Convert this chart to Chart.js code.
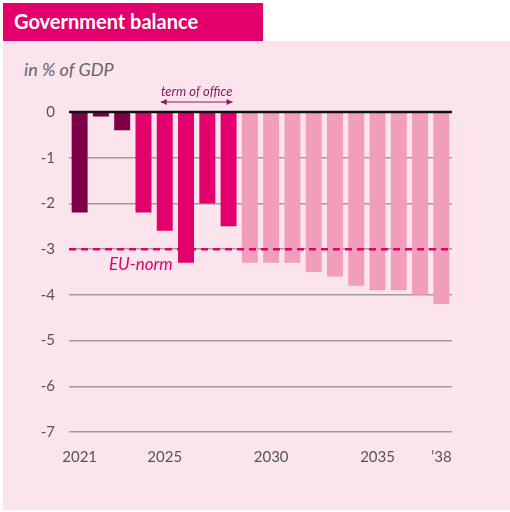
<!DOCTYPE html>
<html>
<head>
<meta charset="utf-8">
<script src="https://cdn.jsdelivr.net/npm/chart.js@4.4.1/dist/chart.umd.min.js"></script>
<style>
    html, body { margin: 0; padding: 0; background: #fff; }
    #wrap { position: relative; width: 510px; height: 512px; overflow: hidden; }
    #panel { position: absolute; left: 3px; top: 41px; width: 507px; height: 469px; background: #fbe4ec; }
    #title {
        position: absolute; left: 3px; top: 3px; width: 260px; height: 38px;
        background: #e4006c; color: #fff;
        font: bold 20px Lato, sans-serif; line-height: 36px;
        padding-left: 11px; box-sizing: border-box;
    }
    #unit {
        position: absolute; left: 24px; top: 58px;
        font: italic 18px Lato, sans-serif; color: #666;
    }
    canvas { position: absolute; left: 0; top: 0; }
</style>
</head>
<body>
<div id="wrap">
    <div id="panel"></div>
    <div id="title">Government balance</div>
    <div id="unit">in % of GDP</div>
    <canvas id="balanceChart" width="510" height="512"></canvas>
</div>
<script>
// Jaren en begrotingssaldo (% bbp)
const years = ['2021', '2022', '2023', '2024', '2025', '2026', '2027', '2028', '2029',
               '2030', '2031', '2032', '2033', '2034', '2035', '2036', '2037', '2038'];
const balance = [-2.2, -0.1, -0.4, -2.2, -2.6, -3.3, -2.0, -2.5, -3.3,
                 -3.3, -3.3, -3.5, -3.6, -3.8, -3.9, -3.9, -4.0, -4.2];
// realisatie, kabinetsperiode, raming
const phase = ['real', 'real', 'real', 'term', 'term', 'term', 'term', 'term', 'proj',
               'proj', 'proj', 'proj', 'proj', 'proj', 'proj', 'proj', 'proj', 'proj'];
const xTickLabels = ['2021', '', '', '', '2025', '', '', '', '',
                     '2030', '', '', '', '', '2035', '', '', '\u201938'];
const yTicks = [0, -1, -2, -3, -4, -5, -6, -7];
const euNorm = -3;
const termStart = '2025';
const termEnd = '2028';

const phaseColors = { real: '#7d0046', term: '#e4006c', proj: '#f29dba' };
const barColors = phase.map(p => phaseColors[p]);

// Nullijn, EU-norm en "term of office" bovenop de staven
const overlayPlugin = {
    id: 'overlay',
    afterDatasetsDraw(chart) {
        const { ctx, chartArea, scales } = chart;
        const x = scales.x, y = scales.y;
        ctx.save();

        // EU-norm stippellijn
        const yn = y.getPixelForValue(euNorm);
        ctx.strokeStyle = '#e4006c';
        ctx.lineWidth = 2.5;
        ctx.setLineDash([7, 5]);
        ctx.beginPath();
        ctx.moveTo(chartArea.left, yn);
        ctx.lineTo(chartArea.right, yn);
        ctx.stroke();
        ctx.setLineDash([]);

        ctx.fillStyle = '#e4006c';
        ctx.font = 'italic 17px Lato, sans-serif';
        ctx.textAlign = 'left';
        ctx.textBaseline = 'middle';
        ctx.fillText('EU-norm', x.getPixelForValue(1) + 8, yn + 15);

        // nullijn
        const y0 = y.getPixelForValue(0);
        ctx.strokeStyle = '#111';
        ctx.lineWidth = 2.5;
        ctx.beginPath();
        ctx.moveTo(chartArea.left, y0);
        ctx.lineTo(chartArea.right, y0);
        ctx.stroke();

        // kabinetsperiode met dubbele pijl
        const xa = x.getPixelForValue(years.indexOf(termStart)) - 4;
        const xb = x.getPixelForValue(years.indexOf(termEnd)) + 4;
        const ya = y0 - 10;
        ctx.strokeStyle = '#8c1a5c';
        ctx.fillStyle = '#8c1a5c';
        ctx.lineWidth = 1.2;
        ctx.beginPath();
        ctx.moveTo(xa, ya);
        ctx.lineTo(xb, ya);
        ctx.stroke();
        [[xa, 1], [xb, -1]].forEach(([px, dir]) => {
            ctx.beginPath();
            ctx.moveTo(px, ya);
            ctx.lineTo(px + dir * 6, ya - 3);
            ctx.lineTo(px + dir * 6, ya + 3);
            ctx.closePath();
            ctx.fill();
        });
        ctx.font = 'italic 13px Lato, sans-serif';
        ctx.textAlign = 'center';
        ctx.textBaseline = 'alphabetic';
        ctx.fillText('term of office', (xa + xb) / 2, ya - 6);

        ctx.restore();
    }
};

new Chart(document.getElementById('balanceChart'), {
    type: 'bar',
    data: {
        labels: years,
        datasets: [{
            data: balance,
            backgroundColor: barColors,
            borderWidth: 0,
            barPercentage: 0.75,
            categoryPercentage: 1
        }]
    },
    options: {
        responsive: false,
        animation: false,
        layout: { padding: { top: 112, right: 58, left: 0, bottom: 0 } },
        plugins: {
            legend: { display: false },
            tooltip: { enabled: false }
        },
        scales: {
            x: {
                grid: { display: false },
                border: { display: false },
                afterFit(scale) { scale.height = 80; },
                ticks: {
                    autoSkip: false,
                    maxRotation: 0,
                    padding: 8,
                    color: '#555',
                    font: { family: 'Lato', size: 15 },
                    callback: (v, i) => xTickLabels[i]
                }
            },
            y: {
                min: -7,
                max: 0,
                afterFit(scale) { scale.width = 69; },
                afterBuildTicks(scale) { scale.ticks = yTicks.map(v => ({ value: v })); },
                border: { display: false },
                grid: {
                    color: ctx => ctx.tick && ctx.tick.value === 0 ? 'rgba(0,0,0,0)' : '#a69aa1',
                    lineWidth: 1.5,
                    drawTicks: false
                },
                ticks: {
                    padding: 14,
                    color: '#555',
                    font: { family: 'Lato', size: 15 },
                    callback: v => String(v)
                }
            }
        }
    },
    plugins: [overlayPlugin]
});
</script>
</body>
</html>
